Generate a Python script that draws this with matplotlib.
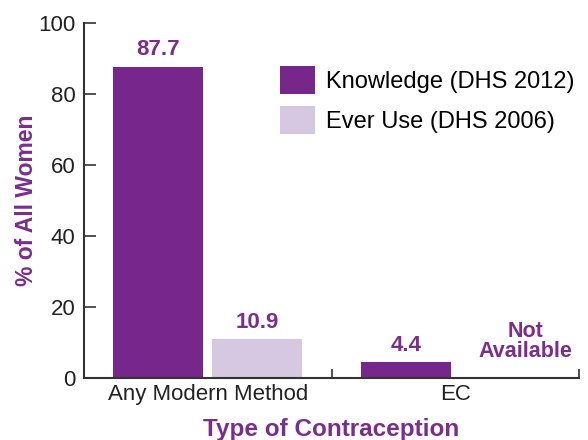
import matplotlib

matplotlib.use("Agg")
import matplotlib.pyplot as plt
import numpy as np

categories = ["Any Modern Method", "EC"]
knowledge = [87.7, 4.4]
ever_use = [10.9, None]  # EC ever-use not available
series_names = ["Knowledge (DHS 2012)", "Ever Use (DHS 2006)"]

PURPLE = "#77278B"
LIGHT = "#D6C8E0"
TEXT_PURPLE = "#7B2D8E"
DARK = "#333333"

plt.rcParams["font.family"] = ["Liberation Sans", "DejaVu Sans"]

fig = plt.figure(figsize=(5.88, 4.4), dpi=100)
ax = fig.add_axes([84 / 588, 1 - 378 / 440, 495 / 588, 355 / 440])

x = np.arange(len(categories))
width = 0.364
off = 0.2

bars_k = ax.bar(x - off, knowledge, width, color=PURPLE, label=series_names[0])
eu_vals = [v if v is not None else 0 for v in ever_use]
bars_e = ax.bar(x + off, eu_vals, width, color=LIGHT, label=series_names[1])

for b, v in zip(bars_k, knowledge):
    ax.text(b.get_x() + b.get_width() / 2, v + 1.8, f"{v:.1f}", ha="center",
            va="bottom", color=TEXT_PURPLE, fontsize=16, fontweight="bold")
for b, v in zip(bars_e, ever_use):
    cx = b.get_x() + b.get_width() / 2
    if v is None:
        ax.text(cx + 0.085, 4.4, "Not\nAvailable", ha="center", va="bottom",
                color=TEXT_PURPLE, fontsize=15.5, fontweight="bold",
                linespacing=0.95)
    else:
        ax.text(cx, v + 1.8, f"{v:.1f}", ha="center", va="bottom",
                color=TEXT_PURPLE, fontsize=16, fontweight="bold")

ax.set_xlim(-0.5, 1.5)
ax.set_ylim(0, 100)
ax.set_yticks([0, 20, 40, 60, 80, 100])
ax.tick_params(axis="y", direction="in", length=8.5, width=1.2, color=DARK,
               labelsize=16, labelcolor="#222222", pad=6)
ax.set_xticks(x)
ax.set_xticklabels(categories)
ax.tick_params(axis="x", which="major", length=0, labelsize=16,
               labelcolor="#222222", pad=4)
ax.set_xticks([0.5, 1.5], minor=True)
ax.tick_params(axis="x", which="minor", direction="in", length=6.5,
               width=1.2, color=DARK)

for side in ("top", "right"):
    ax.spines[side].set_visible(False)
for side in ("left", "bottom"):
    ax.spines[side].set_color(DARK)
    ax.spines[side].set_linewidth(1.5)

ax.set_ylabel("% of All Women", color=TEXT_PURPLE, fontsize=16.5,
              fontweight="bold", labelpad=0.5)
ax.set_xlabel("Type of Contraception", color=TEXT_PURPLE, fontsize=17.5,
              fontweight="bold", labelpad=10)

ax.legend(loc="upper left", bbox_to_anchor=(196 / 495, 1 - 43 / 355),
          frameon=False, fontsize=17, handlelength=1.5, handleheight=1.45,
          handletextpad=0.45, labelspacing=0.5, borderpad=0, borderaxespad=0)

fig.savefig("out.png", dpi=100)
